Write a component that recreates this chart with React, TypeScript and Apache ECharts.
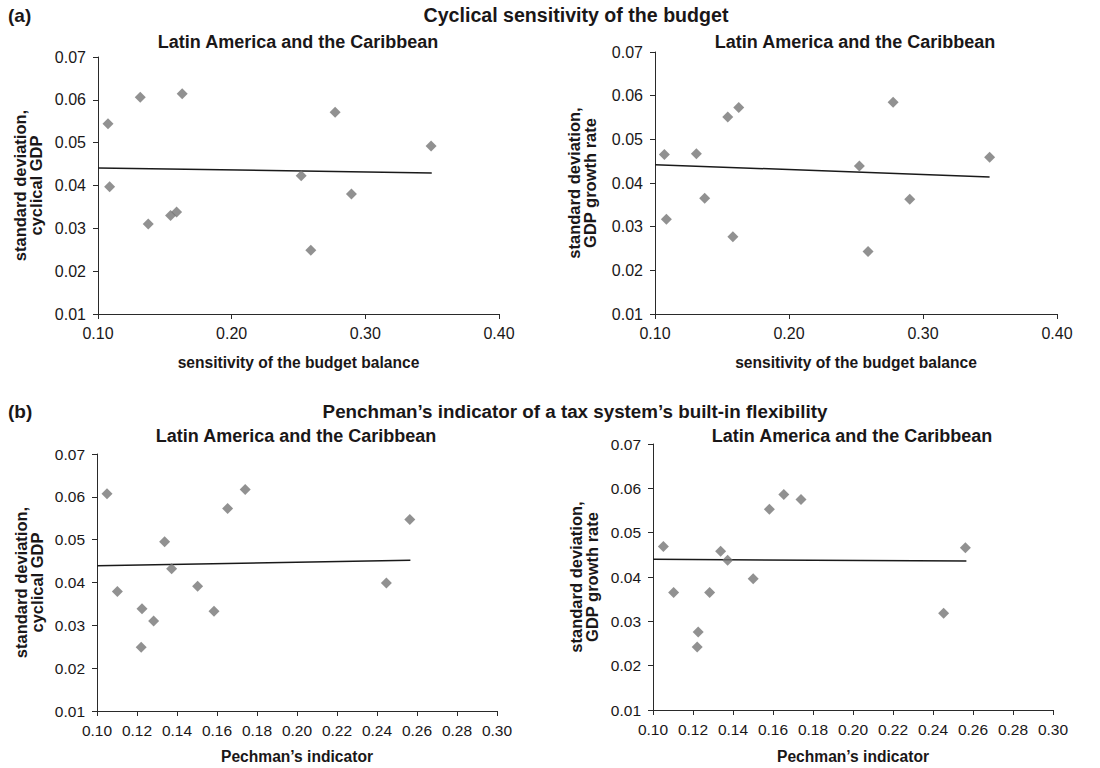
import React, { useEffect, useRef } from "react";
import * as echarts from "echarts";

// Panel (a) left: sensitivity of budget balance vs SD cyclical GDP
const p1X = [0.1075, 0.1087, 0.1316, 0.1376, 0.1543, 0.1588, 0.163, 0.252, 0.2592, 0.2774, 0.2896, 0.3492];
const p1Y = [0.0544, 0.0397, 0.0606, 0.031, 0.033, 0.0338, 0.0614, 0.0423, 0.0249, 0.0571, 0.038, 0.0492];
const trend1X = [0.1, 0.3497];
const trend1Y = [0.0441, 0.0429];

// Panel (a) right: sensitivity of budget balance vs SD GDP growth rate
const p2X = [0.107, 0.1085, 0.1309, 0.1371, 0.1543, 0.1581, 0.1625, 0.2525, 0.259, 0.2777, 0.2901, 0.3497];
const p2Y = [0.0465, 0.0317, 0.0467, 0.0365, 0.0551, 0.0277, 0.0573, 0.0439, 0.0243, 0.0585, 0.0363, 0.0459];
const trend2X = [0.1, 0.3497];
const trend2Y = [0.0442, 0.0414];

// Panel (b) left: Pechman's indicator vs SD cyclical GDP
const p3X = [0.105, 0.1102, 0.1225, 0.1221, 0.1283, 0.1338, 0.1373, 0.1503, 0.1585, 0.1653, 0.1741, 0.2447, 0.2564];
const p3Y = [0.0607, 0.0379, 0.0339, 0.0249, 0.031, 0.0495, 0.0432, 0.0391, 0.0333, 0.0573, 0.0617, 0.0399, 0.0547];
const trend3X = [0.1, 0.2567];
const trend3Y = [0.0439, 0.0452];

// Panel (b) right: Pechman's indicator vs SD GDP growth rate
const p4X = [0.1052, 0.1103, 0.1226, 0.1221, 0.1283, 0.1338, 0.1373, 0.1501, 0.1582, 0.1654, 0.174, 0.2453, 0.2562];
const p4Y = [0.0469, 0.0365, 0.0276, 0.0242, 0.0365, 0.0458, 0.0438, 0.0396, 0.0553, 0.0586, 0.0575, 0.0318, 0.0466];
const trend4X = [0.1, 0.2567];
const trend4Y = [0.044, 0.0436];

const mainTitleA = "Cyclical sensitivity of the budget";
const mainTitleB = "Penchman\u2019s indicator of a tax system\u2019s built-in flexibility";
const subTitle = "Latin America and the Caribbean";
const xNameA = "sensitivity of the budget balance";
const xNameB = "Pechman\u2019s indicator";
const yNameCyc = "standard deviation,\ncyclical GDP";
const yNameGrowth = "standard deviation,\nGDP growth rate";

const FONT = "'Liberation Sans', Arial, Helvetica, sans-serif";
const TXT = "#1a1718";

const zip = (xs: number[], ys: number[]) => xs.map((x, i) => [x, ys[i]]);

export default function App() {
  const ref = useRef<HTMLDivElement>(null);

  useEffect(() => {
    document.body.style.margin = "0";
    if (!ref.current) return;
    const chart = echarts.init(ref.current, null, { renderer: "svg" });

    const grids = [
      { left: 98, top: 57, width: 401, height: 257 },
      { left: 655, top: 52, width: 402, height: 262 },
      { left: 97, top: 454, width: 400, height: 257 },
      { left: 653, top: 444, width: 400, height: 266 },
    ];

    const axisCommon = {
      axisLine: { show: true, lineStyle: { color: "#2a2a2a", width: 1 } },
      axisTick: { show: true, inside: false, length: 5, lineStyle: { color: "#2a2a2a", width: 1 } },
      splitLine: { show: false },
    };

    const xAxisFor = (gi: number, max: number, interval: number, name: string, fs: number, nameGap: number) => ({
      type: "value",
      gridIndex: gi,
      min: 0.1,
      max,
      interval,
      name,
      nameLocation: "middle",
      nameGap,
      nameTextStyle: { fontFamily: FONT, fontSize: 15.6, fontWeight: "bold", color: TXT },
      axisLabel: {
        fontFamily: FONT,
        fontSize: fs,
        color: TXT,
        margin: 11,
        formatter: (v: number) => v.toFixed(2),
      },
      ...axisCommon,
    });

    const yAxisFor = (gi: number, name: string, fs: number, nameGap: number) => ({
      type: "value",
      gridIndex: gi,
      min: 0.01,
      max: 0.07,
      interval: 0.01,
      name,
      nameLocation: "middle",
      nameGap,
      nameTextStyle: { fontFamily: FONT, fontSize: 16.5, fontWeight: "bold", color: TXT, lineHeight: 16 },
      axisLabel: {
        fontFamily: FONT,
        fontSize: fs,
        color: TXT,
        margin: 12,
        formatter: (v: number) => v.toFixed(2),
      },
      ...axisCommon,
    });

    const scatter = (i: number, xs: number[], ys: number[]) => ({
      type: "scatter",
      xAxisIndex: i,
      yAxisIndex: i,
      symbol: "diamond",
      symbolSize: [11, 11],
      itemStyle: { color: "#767676" },
      data: zip(xs, ys),
      z: 3,
    });

    const trend = (i: number, xs: number[], ys: number[]) => ({
      type: "line",
      xAxisIndex: i,
      yAxisIndex: i,
      showSymbol: false,
      symbol: "none",
      lineStyle: { color: "#1a1a1a", width: 1.5 },
      data: zip(xs, ys),
      z: 2,
    });

    const txt = (text: string, x: number, y: number, size: number, align: string) => ({
      type: "text",
      x,
      y,
      style: {
        text,
        font: `bold ${size}px ${FONT}`,
        fill: TXT,
        textAlign: align,
        textVerticalAlign: "middle",
      },
    });

    chart.setOption({
      animation: false,
      backgroundColor: "#ffffff",
      grid: grids,
      xAxis: [
        xAxisFor(0, 0.4, 0.1, xNameA, 16, 40),
        xAxisFor(1, 0.4, 0.1, xNameA, 16, 40),
        xAxisFor(2, 0.3, 0.02, xNameB, 15.5, 37),
        xAxisFor(3, 0.3, 0.02, xNameB, 15.5, 38),
      ],
      yAxis: [
        yAxisFor(0, yNameCyc, 16, 54),
        yAxisFor(1, yNameGrowth, 16, 57),
        yAxisFor(2, yNameCyc, 15.5, 52),
        yAxisFor(3, yNameGrowth, 15.5, 53),
      ],
      series: [
        scatter(0, p1X, p1Y),
        trend(0, trend1X, trend1Y),
        scatter(1, p2X, p2Y),
        trend(1, trend2X, trend2Y),
        scatter(2, p3X, p3Y),
        trend(2, trend3X, trend3Y),
        scatter(3, p4X, p4Y),
        trend(3, trend4X, trend4Y),
      ],
      graphic: [
        txt("(a)", 8, 15, 19, "left"),
        txt(mainTitleA, 576, 15, 19.6, "center"),
        txt(subTitle, 298, 42, 18, "center"),
        txt(subTitle, 855, 42, 18, "center"),
        txt("(b)", 8, 411, 19, "left"),
        txt(mainTitleB, 575, 411, 18.8, "center"),
        txt(subTitle, 296, 436, 18, "center"),
        txt(subTitle, 852, 436, 18, "center"),
      ],
    });

    return () => {
      chart.dispose();
    };
  }, []);

  return <div ref={ref} style={{ width: 1100, height: 768 }} />;
}
